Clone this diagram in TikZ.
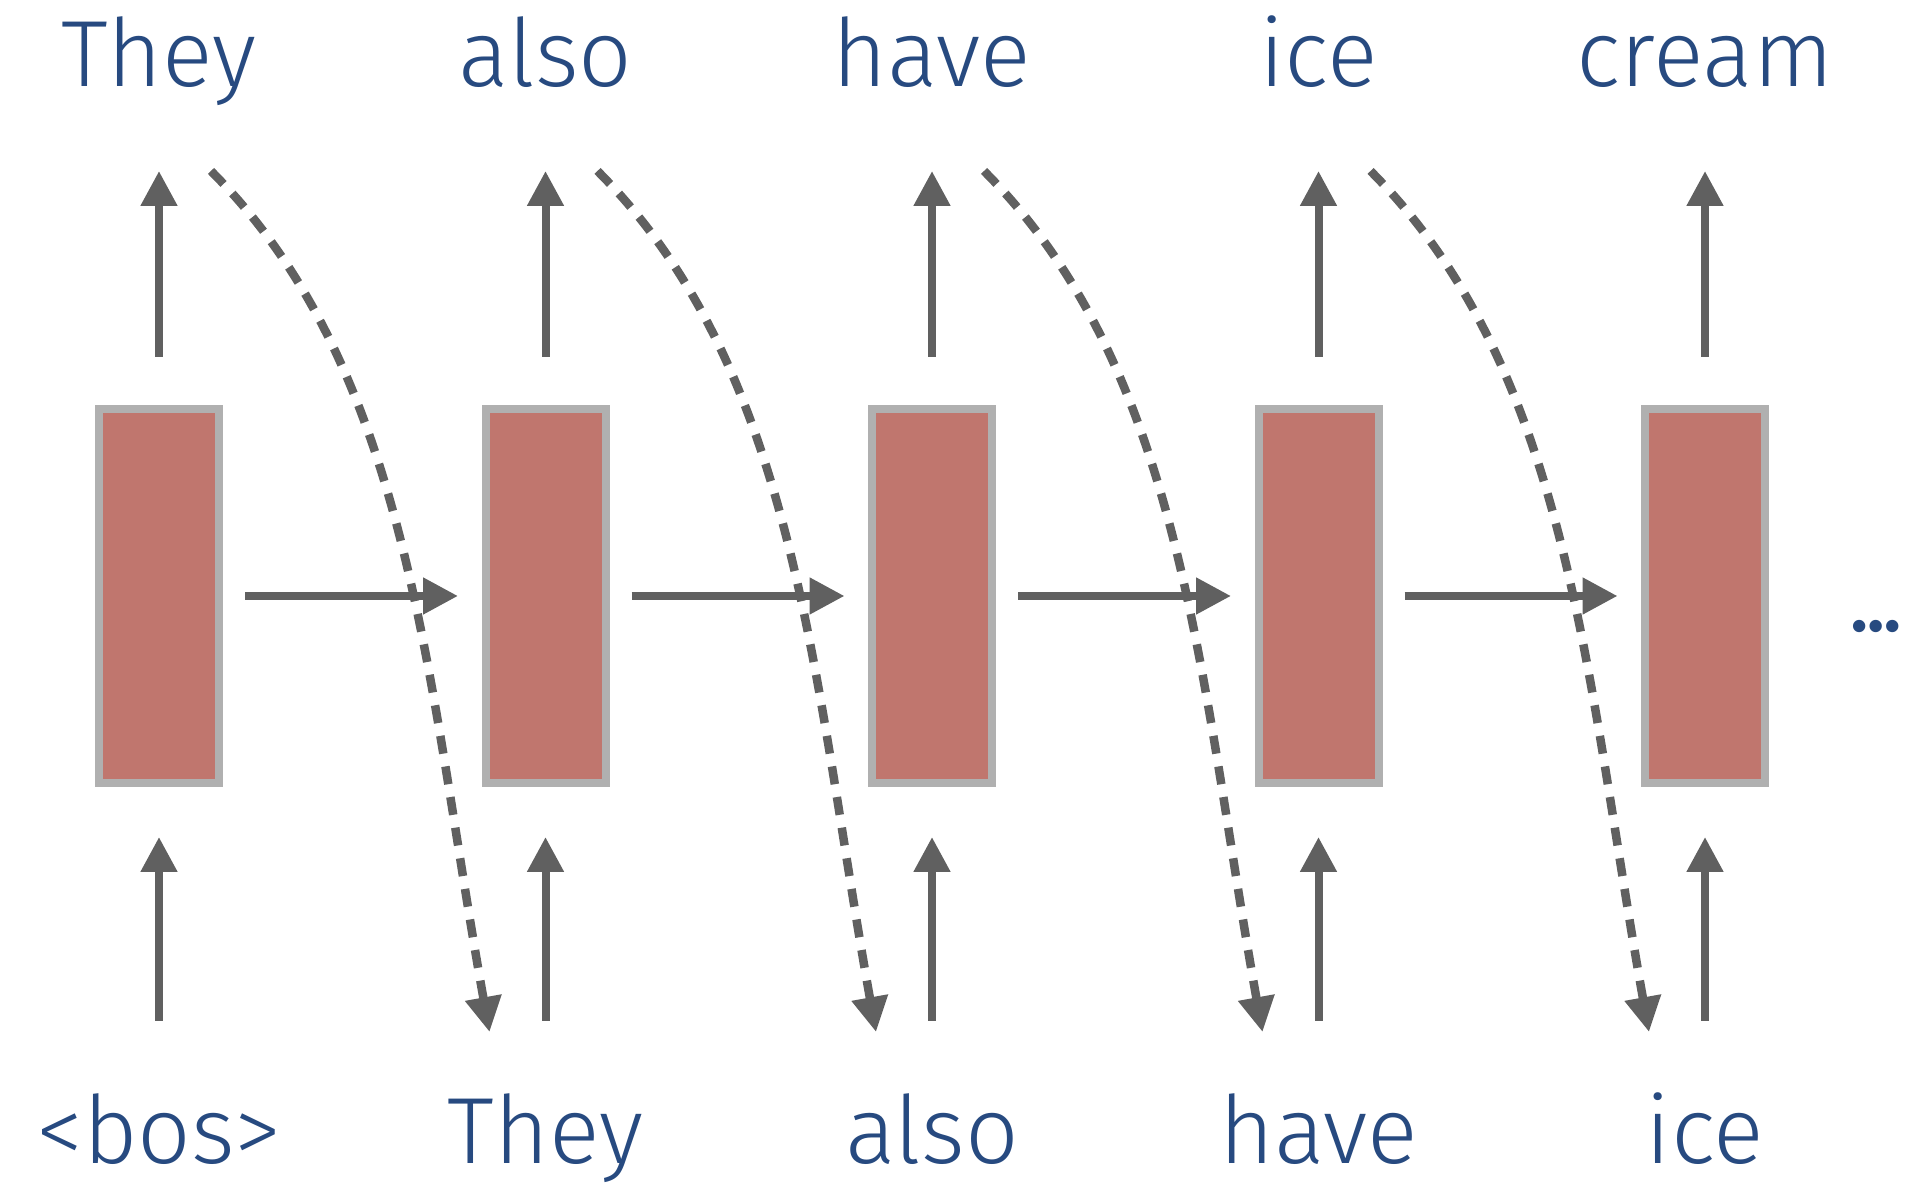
\documentclass[tikz,border=0pt]{standalone}
\usepackage{fontspec}
\setmainfont{Fira Sans Light}
\newfontfamily\dotfont{Fira Sans}
\usepackage{tikz}
\usetikzlibrary{arrows.meta,positioning,calc}
\definecolor{wordblue}{HTML}{274A80}
\definecolor{cellred}{HTML}{C0766E}
\definecolor{cellgray}{HTML}{B0B0B0}
\definecolor{arrgray}{HTML}{606060}
\tikzset{
  word/.style={text=wordblue, font=\fontsize{94pt}{110pt}\selectfont, inner sep=0pt, text height=66pt, text depth=12pt},
  more dots/.style={text=wordblue, font=\dotfont\bfseries\fontsize{68pt}{74pt}\selectfont, inner sep=0pt},
  cell/.style={draw=cellgray, fill=cellred, line width=8pt, minimum width=120pt, minimum height=374pt, inner sep=0pt},
  arr/.style={-{Triangle[length=35pt,width=35pt]}, draw=arrgray, line width=8pt},
  up in/.style={arr, shorten <=76pt, shorten >=50pt},
  up out/.style={arr, shorten <=48pt, shorten >=72pt},
  step arr/.style={arr, shorten <=22pt, shorten >=23.5pt},
  feed/.style={arr, line width=8.5pt, dash pattern=on 18pt off 13pt}
}

\begin{document}
\begin{tikzpicture}
\useasboundingbox (0pt,0pt) rectangle (1916pt,1188pt);
% hidden states
\node[cell] (h0) at (159pt,592pt) {};
\node[cell, right=258.5pt of h0] (h1) {};
\node[cell, right=258.5pt of h1] (h2) {};
\node[cell, right=258.5pt of h2] (h3) {};
\node[cell, right=258.5pt of h3] (h4) {};
% predicted words
\node[word, above=306pt of h0] (o0) {They};
\node[word, above=306pt of h1] (o1) {also};
\node[word, above=306pt of h2] (o2) {have};
\node[word, above=306pt of h3] (o3) {ice};
\node[word, above=306pt of h4] (o4) {cream};
% input words
\node[word, below=310pt of h0] (i0) {<bos>};
\node[word, below=310pt of h1] (i1) {They};
\node[word, below=310pt of h2] (i2) {also};
\node[word, below=310pt of h3] (i3) {have};
\node[word, below=310pt of h4] (i4) {ice};
\node[more dots] (more) at ($(h4)+(171pt,-31pt)$) {…};
% ends of the feed-back arrows
\coordinate (s0) at ($(o0.south)+(52pt,-72pt)$);
\coordinate (s1) at ($(o1.south)+(52pt,-72pt)$);
\coordinate (s2) at ($(o2.south)+(52pt,-72pt)$);
\coordinate (s3) at ($(o3.south)+(52pt,-72pt)$);
\coordinate (e1) at ($(i1.north)+(-56pt,65pt)$);
\coordinate (e2) at ($(i2.north)+(-56pt,65pt)$);
\coordinate (e3) at ($(i3.north)+(-56pt,65pt)$);
\coordinate (e4) at ($(i4.north)+(-56pt,65pt)$);

\draw[up in] (i0) -- (h0);
\draw[up in] (i1) -- (h1);
\draw[up in] (i2) -- (h2);
\draw[up in] (i3) -- (h3);
\draw[up in] (i4) -- (h4);
\draw[up out] (h0) -- (o0);
\draw[up out] (h1) -- (o1);
\draw[up out] (h2) -- (o2);
\draw[up out] (h3) -- (o3);
\draw[up out] (h4) -- (o4);
\draw[step arr] (h0) -- (h1);
\draw[step arr] (h1) -- (h2);
\draw[step arr] (h2) -- (h3);
\draw[step arr] (h3) -- (h4);
\draw[feed] (s0) .. controls +(200pt,-200pt) and +(-63pt,350pt) .. (e1);
\draw[feed] (s1) .. controls +(200pt,-200pt) and +(-63pt,350pt) .. (e2);
\draw[feed] (s2) .. controls +(200pt,-200pt) and +(-63pt,350pt) .. (e3);
\draw[feed] (s3) .. controls +(200pt,-200pt) and +(-63pt,350pt) .. (e4);
\end{tikzpicture}
\end{document}
